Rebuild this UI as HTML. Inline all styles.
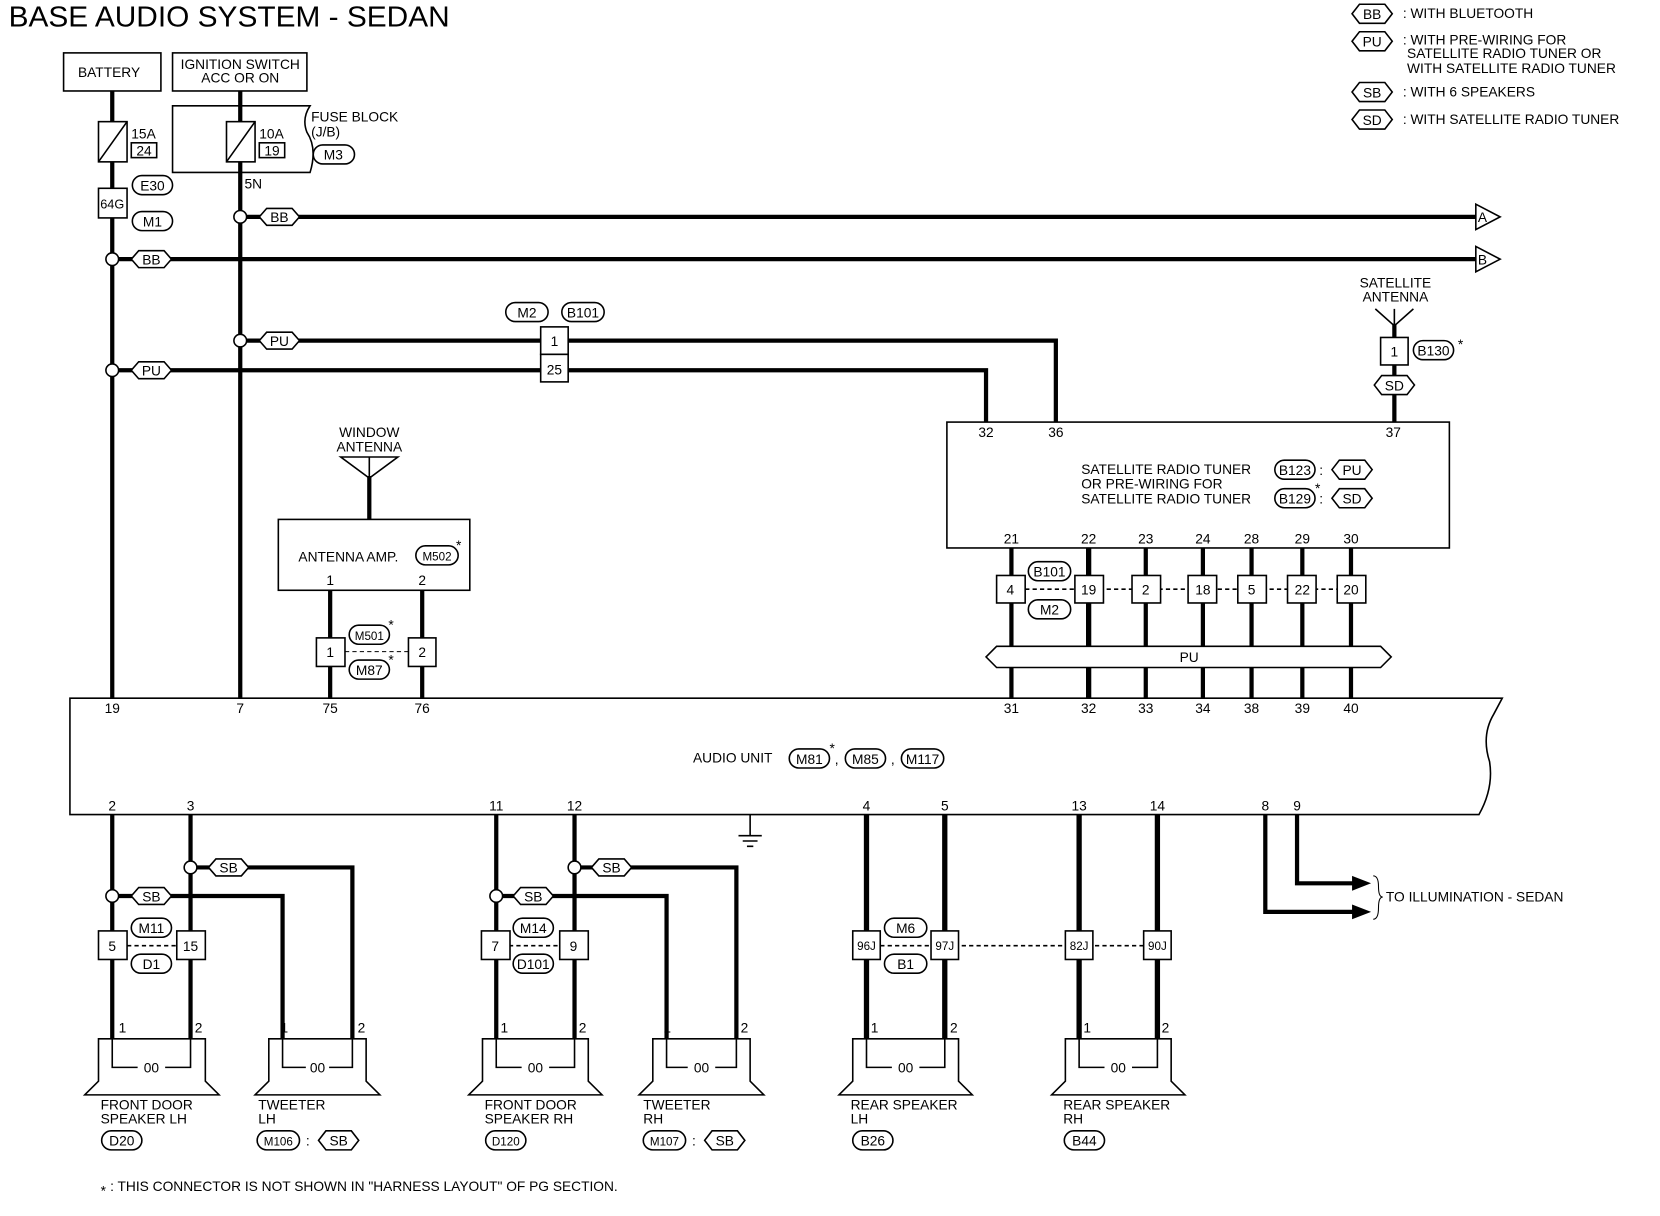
<!DOCTYPE html>
<html><head><meta charset="utf-8"><style>
html,body{margin:0;padding:0;background:#fff;}
svg{display:block;}
text{font-family:"Liberation Sans",sans-serif;font-size:13px;fill:#000;}
.c{text-anchor:middle;}
.w{stroke:#000;stroke-width:4;fill:none;}
.w5{stroke:#000;stroke-width:5;fill:none;}
.t{stroke:#000;stroke-width:1.5;fill:none;}
.b{stroke:#000;stroke-width:1.5;fill:#fff;}
.d{stroke:#000;stroke-width:1.5;stroke-dasharray:4,3;fill:none;}
</style></head><body>
<svg width="1660" height="1216" viewBox="0 0 1569 1149.5" xmlns="http://www.w3.org/2000/svg">
<text x="8" y="25" style="font-size:27px" textLength="417" lengthAdjust="spacingAndGlyphs">BASE AUDIO SYSTEM - SEDAN</text>

<!-- legend -->
<polygon class="b" points="1278,13 1285,4 1309,4 1316,13 1309,22 1285,22"/><text class="c" x="1297" y="18">BB</text><text x="1326" y="17">: WITH BLUETOOTH</text>
<polygon class="b" points="1278,39 1285,30 1309,30 1316,39 1309,48 1285,48"/><text class="c" x="1297" y="44">PU</text><text x="1326" y="42">: WITH PRE-WIRING FOR</text><text x="1330" y="55">SATELLITE RADIO TUNER OR</text><text x="1330" y="69">WITH SATELLITE RADIO TUNER</text>
<polygon class="b" points="1278,87 1285,78 1309,78 1316,87 1309,96 1285,96"/><text class="c" x="1297" y="92">SB</text><text x="1326" y="91">: WITH 6 SPEAKERS</text>
<polygon class="b" points="1278,113 1285,104 1309,104 1316,113 1309,122 1285,122"/><text class="c" x="1297" y="118">SD</text><text x="1326" y="117">: WITH SATELLITE RADIO TUNER</text>

<!-- top boxes -->
<rect class="t" x="60" y="50" width="92" height="36"/><text class="c" x="103" y="73">BATTERY</text>
<rect class="t" x="163" y="50" width="127" height="36"/><text class="c" x="227" y="65">IGNITION SWITCH</text><text class="c" x="227" y="78">ACC OR ON</text>
<path class="t" d="M163,100 H293 Q285,112 290,125 Q300,140 293,163 H163 Z"/>
<text x="294" y="115">FUSE BLOCK</text><text x="294" y="129">(J/B)</text>
<rect class="t" x="296" y="137" width="39" height="18" rx="9"/><text class="c" x="315" y="151">M3</text>

<!-- main vertical wires -->
<line class="w" x1="106" y1="86" x2="106" y2="660"/>
<line class="w" x1="227" y1="86" x2="227" y2="660"/>
<!-- fuses -->
<rect class="b" x="93" y="115" width="27" height="38"/><line class="t" x1="93" y1="153" x2="120" y2="115"/>
<text x="124" y="131">15A</text><rect class="t" x="124" y="135" width="24" height="14"/><text class="c" x="136" y="147">24</text>
<rect class="b" x="214" y="115" width="27" height="38"/><line class="t" x1="214" y1="153" x2="241" y2="115"/>
<text x="245" y="131">10A</text><rect class="t" x="245" y="135" width="24" height="14"/><text class="c" x="257" y="147">19</text>
<text x="231" y="178">5N</text>
<rect class="t" x="125" y="166" width="38" height="18" rx="9"/><text class="c" x="144" y="180">E30</text>
<rect class="b" x="93" y="178" width="27" height="28"/><text class="c" x="106" y="197" style="font-size:12px">64G</text>
<rect class="t" x="125" y="200" width="38" height="18" rx="9"/><text class="c" x="144" y="214">M1</text>

<!-- BB lines -->
<line class="w" x1="227" y1="205" x2="1395" y2="205"/>
<circle class="b" cx="227" cy="205" r="6"/>
<polygon class="b" points="245,205 252,197 276,197 283,205 276,213 252,213"/><text class="c" x="264" y="210">BB</text>
<polygon class="b" points="1395,193 1418,205 1395,217"/><text x="1397" y="210">A</text>
<line class="w" x1="106" y1="245" x2="1395" y2="245"/>
<circle class="b" cx="106" cy="245" r="6"/>
<polygon class="b" points="124,245 131,237 155,237 162,245 155,253 131,253"/><text class="c" x="143" y="250">BB</text>
<polygon class="b" points="1395,233 1418,245 1395,257"/><text x="1397" y="250">B</text>

<!-- PU lines -->
<path class="w" d="M227,322 H998 V399"/>
<circle class="b" cx="227" cy="322" r="6"/>
<polygon class="b" points="245,322 252,314 276,314 283,322 276,330 252,330"/><text class="c" x="264" y="327">PU</text>
<path class="w" d="M106,350 H932 V399"/>
<circle class="b" cx="106" cy="350" r="6"/>
<polygon class="b" points="124,350 131,342 155,342 162,350 155,358 131,358"/><text class="c" x="143" y="355">PU</text>
<rect class="b" x="511" y="309" width="26" height="26"/><text class="c" x="524" y="327">1</text>
<rect class="b" x="511" y="335" width="26" height="26"/><text class="c" x="524" y="354">25</text>
<rect class="t" x="478" y="286" width="40" height="18" rx="9"/><text class="c" x="498" y="300">M2</text>
<rect class="t" x="531" y="286" width="40" height="18" rx="9"/><text class="c" x="551" y="300">B101</text>

<!-- satellite antenna -->
<text class="c" x="1319" y="272">SATELLITE</text><text class="c" x="1319" y="285">ANTENNA</text>
<path class="t" d="M1300,292 L1318,308 L1336,292 M1318,292 V308"/>
<line class="w" x1="1318" y1="306" x2="1318" y2="399"/>
<rect class="b" x="1305" y="319" width="26" height="26"/><text class="c" x="1318" y="337">1</text>
<rect class="t" x="1336" y="322" width="38" height="18" rx="9"/><text class="c" x="1355" y="336">B130</text><text x="1378" y="330">*</text>
<polygon class="b" points="1299,364 1306,355 1330,355 1337,364 1330,373 1306,373"/><text class="c" x="1318" y="369">SD</text>

<!-- tuner box -->
<rect class="t" x="895" y="399" width="475" height="119"/>
<text class="c" x="932" y="413">32</text><text class="c" x="998" y="413">36</text><text class="c" x="1317" y="413">37</text>
<text x="1022" y="448">SATELLITE RADIO TUNER</text><text x="1022" y="462">OR PRE-WIRING FOR</text><text x="1022" y="476">SATELLITE RADIO TUNER</text>
<rect class="t" x="1205" y="435" width="38" height="18" rx="9"/><text class="c" x="1224" y="449">B123</text><text x="1247" y="449">:</text>
<polygon class="b" points="1259,444 1266,435 1290,435 1297,444 1290,453 1266,453"/><text class="c" x="1278" y="449">PU</text>
<rect class="t" x="1205" y="462" width="38" height="18" rx="9"/><text class="c" x="1224" y="476">B129</text><text x="1243" y="466">*</text><text x="1247" y="476">:</text>
<polygon class="b" points="1259,471 1266,462 1290,462 1297,471 1290,480 1266,480"/><text class="c" x="1278" y="476">SD</text>
<g class="c">
<text x="956" y="514">21</text><text x="1029" y="514">22</text><text x="1083" y="514">23</text><text x="1137" y="514">24</text><text x="1183" y="514">28</text><text x="1231" y="514">29</text><text x="1277" y="514">30</text>
</g>
<g class="w"><line x1="956" y1="518" x2="956" y2="660"/><line x1="1029" y1="518" x2="1029" y2="660" style="stroke-width:5"/><line x1="1083" y1="518" x2="1083" y2="660"/><line x1="1137" y1="518" x2="1137" y2="660"/><line x1="1183" y1="518" x2="1183" y2="660"/><line x1="1231" y1="518" x2="1231" y2="660"/><line x1="1277" y1="518" x2="1277" y2="660"/></g>
<line class="d" x1="969" y1="557" x2="1264" y2="557"/>
<g class="b"><rect x="942" y="544" width="27" height="26"/><rect x="1016" y="544" width="27" height="26"/><rect x="1070" y="544" width="27" height="26"/><rect x="1123" y="544" width="27" height="26"/><rect x="1170" y="544" width="27" height="26"/><rect x="1217" y="544" width="27" height="26"/><rect x="1264" y="544" width="27" height="26"/></g>
<g class="c"><text x="955" y="562">4</text><text x="1029" y="562">19</text><text x="1083" y="562">2</text><text x="1137" y="562">18</text><text x="1183" y="562">5</text><text x="1231" y="562">22</text><text x="1277" y="562">20</text></g>
<rect class="b" x="972" y="531" width="40" height="18" rx="9"/><text class="c" x="992" y="545">B101</text>
<rect class="b" x="972" y="567" width="40" height="18" rx="9"/><text class="c" x="992" y="581">M2</text>
<polygon class="b" points="932,621 942,611 1305,611 1315,621 1305,631 942,631"/><text class="c" x="1124" y="626">PU</text>

<!-- window antenna -->
<text class="c" x="349" y="413">WINDOW</text><text class="c" x="349" y="427">ANTENNA</text>
<path class="t" d="M322,432 H376 L349,452 Z M349,432 V452"/>
<line class="w" x1="349" y1="450" x2="349" y2="491"/>
<rect class="t" x="263" y="491" width="181" height="67"/>
<text x="282" y="531">ANTENNA AMP.</text>
<rect class="t" x="393" y="516" width="40" height="18" rx="9"/><text class="c" x="413" y="530" style="font-size:11px">M502</text><text x="431" y="520">*</text>
<text class="c" x="312" y="553">1</text><text class="c" x="399" y="553">2</text>
<line class="w" x1="312" y1="558" x2="312" y2="660"/><line class="w" x1="399" y1="558" x2="399" y2="660"/>
<line class="d" x1="326" y1="616" x2="386" y2="616" style="stroke-width:1"/>
<rect class="b" x="299" y="603" width="27" height="27"/><text class="c" x="312" y="621">1</text>
<rect class="b" x="386" y="603" width="26" height="27"/><text class="c" x="399" y="621">2</text>
<rect class="b" x="330" y="591" width="38" height="18" rx="9"/><text class="c" x="349" y="605" style="font-size:11px">M501</text><text x="367" y="595">*</text>
<rect class="b" x="330" y="624" width="38" height="18" rx="9"/><text class="c" x="349" y="638">M87</text><text x="367" y="628">*</text>

<!-- audio unit -->
<path class="t" d="M1420,660 H66 V770 H1398 Q1412,745 1408,720 Q1400,695 1412,675 Z"/>
<g class="c">
<text x="106" y="674">19</text><text x="227" y="674">7</text><text x="312" y="674">75</text><text x="399" y="674">76</text>
<text x="956" y="674">31</text><text x="1029" y="674">32</text><text x="1083" y="674">33</text><text x="1137" y="674">34</text><text x="1183" y="674">38</text><text x="1231" y="674">39</text><text x="1277" y="674">40</text>
<text x="106" y="766">2</text><text x="180" y="766">3</text><text x="469" y="766">11</text><text x="543" y="766">12</text><text x="819" y="766">4</text><text x="893" y="766">5</text><text x="1020" y="766">13</text><text x="1094" y="766">14</text><text x="1196" y="766">8</text><text x="1226" y="766">9</text>
</g>
<text x="655" y="721">AUDIO UNIT</text>
<rect class="t" x="746" y="708" width="38" height="18" rx="9"/><text class="c" x="765" y="722">M81</text><text x="784" y="712">*</text><text x="789" y="722">,</text>
<rect class="t" x="799" y="708" width="38" height="18" rx="9"/><text class="c" x="818" y="722">M85</text><text x="842" y="722">,</text>
<rect class="t" x="852" y="708" width="40" height="18" rx="9"/><text class="c" x="872" y="722">M117</text>
<path class="t" d="M709,770 V790 M698,790 H720 M702,795 H716 M706,800 H712"/>

<!-- speaker wires -->
<g class="w">
<line x1="106" y1="770" x2="106" y2="982"/><line x1="180" y1="770" x2="180" y2="982"/>
<path d="M180,820 H333 V982"/><path d="M106,847 H267 V982"/>
<line x1="469" y1="770" x2="469" y2="982"/><line x1="543" y1="770" x2="543" y2="982"/>
<path d="M543,820 H696 V982"/><path d="M469,847 H630 V982"/>
</g>
<g class="w5"><line x1="819" y1="770" x2="819" y2="982"/><line x1="893" y1="770" x2="893" y2="982"/><line x1="1020" y1="770" x2="1020" y2="982"/><line x1="1094" y1="770" x2="1094" y2="982"/></g>
<circle class="b" cx="180" cy="820" r="6"/><polygon class="b" points="197,820 204,812 228,812 235,820 228,828 204,828"/><text class="c" x="216" y="825">SB</text>
<circle class="b" cx="106" cy="847" r="6"/><polygon class="b" points="124,847 131,839 155,839 162,847 155,855 131,855"/><text class="c" x="143" y="852">SB</text>
<circle class="b" cx="543" cy="820" r="6"/><polygon class="b" points="559,820 566,812 590,812 597,820 590,828 566,828"/><text class="c" x="578" y="825">SB</text>
<circle class="b" cx="469" cy="847" r="6"/><polygon class="b" points="485,847 492,839 516,839 523,847 516,855 492,855"/><text class="c" x="504" y="852">SB</text>

<line class="d" x1="120" y1="894" x2="167" y2="894"/>
<rect class="b" x="93" y="880" width="27" height="27"/><text class="c" x="106" y="899">5</text>
<rect class="b" x="167" y="880" width="27" height="27"/><text class="c" x="180" y="899">15</text>
<rect class="b" x="124" y="868" width="38" height="18" rx="9"/><text class="c" x="143" y="882">M11</text>
<rect class="b" x="124" y="902" width="38" height="18" rx="9"/><text class="c" x="143" y="916">D1</text>

<line class="d" x1="481" y1="894" x2="529" y2="894"/>
<rect class="b" x="455" y="880" width="27" height="27"/><text class="c" x="468" y="899">7</text>
<rect class="b" x="529" y="880" width="27" height="27"/><text class="c" x="542" y="899">9</text>
<rect class="b" x="485" y="868" width="38" height="18" rx="9"/><text class="c" x="504" y="882">M14</text>
<rect class="b" x="485" y="902" width="38" height="18" rx="9"/><text class="c" x="504" y="916">D101</text>

<line class="d" x1="832" y1="894" x2="1081" y2="894"/>
<g class="b"><rect x="806" y="880" width="26" height="27"/><rect x="880" y="880" width="26" height="27"/><rect x="1007" y="880" width="26" height="27"/><rect x="1081" y="880" width="26" height="27"/></g>
<g class="c"><text x="819" y="898" style="font-size:11px">96J</text><text x="893" y="898" style="font-size:11px">97J</text><text x="1020" y="898" style="font-size:11px">82J</text><text x="1094" y="898" style="font-size:11px">90J</text></g>
<rect class="b" x="836" y="868" width="40" height="18" rx="9"/><text class="c" x="856" y="882">M6</text>
<rect class="b" x="836" y="902" width="40" height="18" rx="9"/><text class="c" x="856" y="916">B1</text>

<!-- speakers -->
<g class="t">
<path d="M93,982 H194 V1022 L207,1035 H80 L93,1022 Z M106,982 V1009 H130 M156,1009 H180 V982"/>
<path d="M254,982 H346 V1022 L359,1035 H241 L254,1022 Z M267,982 V1009 H289 M311,1009 H333 V982"/>
<path d="M456,982 H556 V1022 L569,1035 H443 L456,1022 Z M469,982 V1009 H493 M519,1009 H543 V982"/>
<path d="M617,982 H709 V1022 L722,1035 H604 L617,1022 Z M630,982 V1009 H650 M676,1009 H696 V982"/>
<path d="M806,982 H906 V1022 L919,1035 H793 L806,1022 Z M819,982 V1009 H843 M869,1009 H893 V982"/>
<path d="M1007,982 H1107 V1022 L1120,1035 H994 L1007,1022 Z M1020,982 V1009 H1044 M1070,1009 H1094 V982"/>
</g>
<g style="font-size:14px" class="c"><text x="143" y="1014">00</text><text x="300" y="1014">00</text><text x="506" y="1014">00</text><text x="663" y="1014">00</text><text x="856" y="1014">00</text><text x="1057" y="1014">00</text></g>
<g><text x="112" y="976">1</text><text x="184" y="976">2</text><text x="265" y="976">1</text><text x="338" y="976">2</text><text x="473" y="976">1</text><text x="547" y="976">2</text><text x="627" y="976">1</text><text x="700" y="976">2</text><text x="823" y="976">1</text><text x="898" y="976">2</text><text x="1024" y="976">1</text><text x="1098" y="976">2</text></g>

<text x="95" y="1049">FRONT DOOR</text><text x="95" y="1062">SPEAKER LH</text>
<rect class="t" x="96" y="1069" width="38" height="18" rx="9"/><text class="c" x="115" y="1083">D20</text>
<text x="244" y="1049">TWEETER</text><text x="244" y="1062">LH</text>
<rect class="t" x="243" y="1069" width="40" height="18" rx="9"/><text class="c" x="263" y="1083" style="font-size:11px">M106</text><text x="289" y="1083">:</text>
<polygon class="b" points="301,1078 308,1069 332,1069 339,1078 332,1087 308,1087"/><text class="c" x="320" y="1083">SB</text>
<text x="458" y="1049">FRONT DOOR</text><text x="458" y="1062">SPEAKER RH</text>
<rect class="t" x="459" y="1069" width="38" height="18" rx="9"/><text class="c" x="478" y="1083" style="font-size:11px">D120</text>
<text x="608" y="1049">TWEETER</text><text x="608" y="1062">RH</text>
<rect class="t" x="608" y="1069" width="40" height="18" rx="9"/><text class="c" x="628" y="1083" style="font-size:11px">M107</text><text x="654" y="1083">:</text>
<polygon class="b" points="666,1078 673,1069 697,1069 704,1078 697,1087 673,1087"/><text class="c" x="685" y="1083">SB</text>
<text x="804" y="1049">REAR SPEAKER</text><text x="804" y="1062">LH</text>
<rect class="t" x="806" y="1069" width="38" height="18" rx="9"/><text class="c" x="825" y="1083">B26</text>
<text x="1005" y="1049">REAR SPEAKER</text><text x="1005" y="1062">RH</text>
<rect class="t" x="1006" y="1069" width="38" height="18" rx="9"/><text class="c" x="1025" y="1083">B44</text>

<!-- illumination -->
<path class="w" d="M1226,770 V835 H1280"/><path class="w" d="M1196,770 V862 H1280"/>
<polygon points="1278,828 1296,835 1278,842"/><polygon points="1278,855 1296,862 1278,869"/>
<path class="t" style="stroke-width:1" d="M1298,828 Q1303,828 1303,838 Q1303,848 1307,848 Q1303,848 1303,858 Q1303,869 1298,869"/>
<text x="1310" y="852">TO ILLUMINATION - SEDAN</text>

<text x="95" y="1130">*</text><text x="104" y="1126">: THIS CONNECTOR IS NOT SHOWN IN "HARNESS LAYOUT" OF PG SECTION.</text>
</svg>
</body></html>
